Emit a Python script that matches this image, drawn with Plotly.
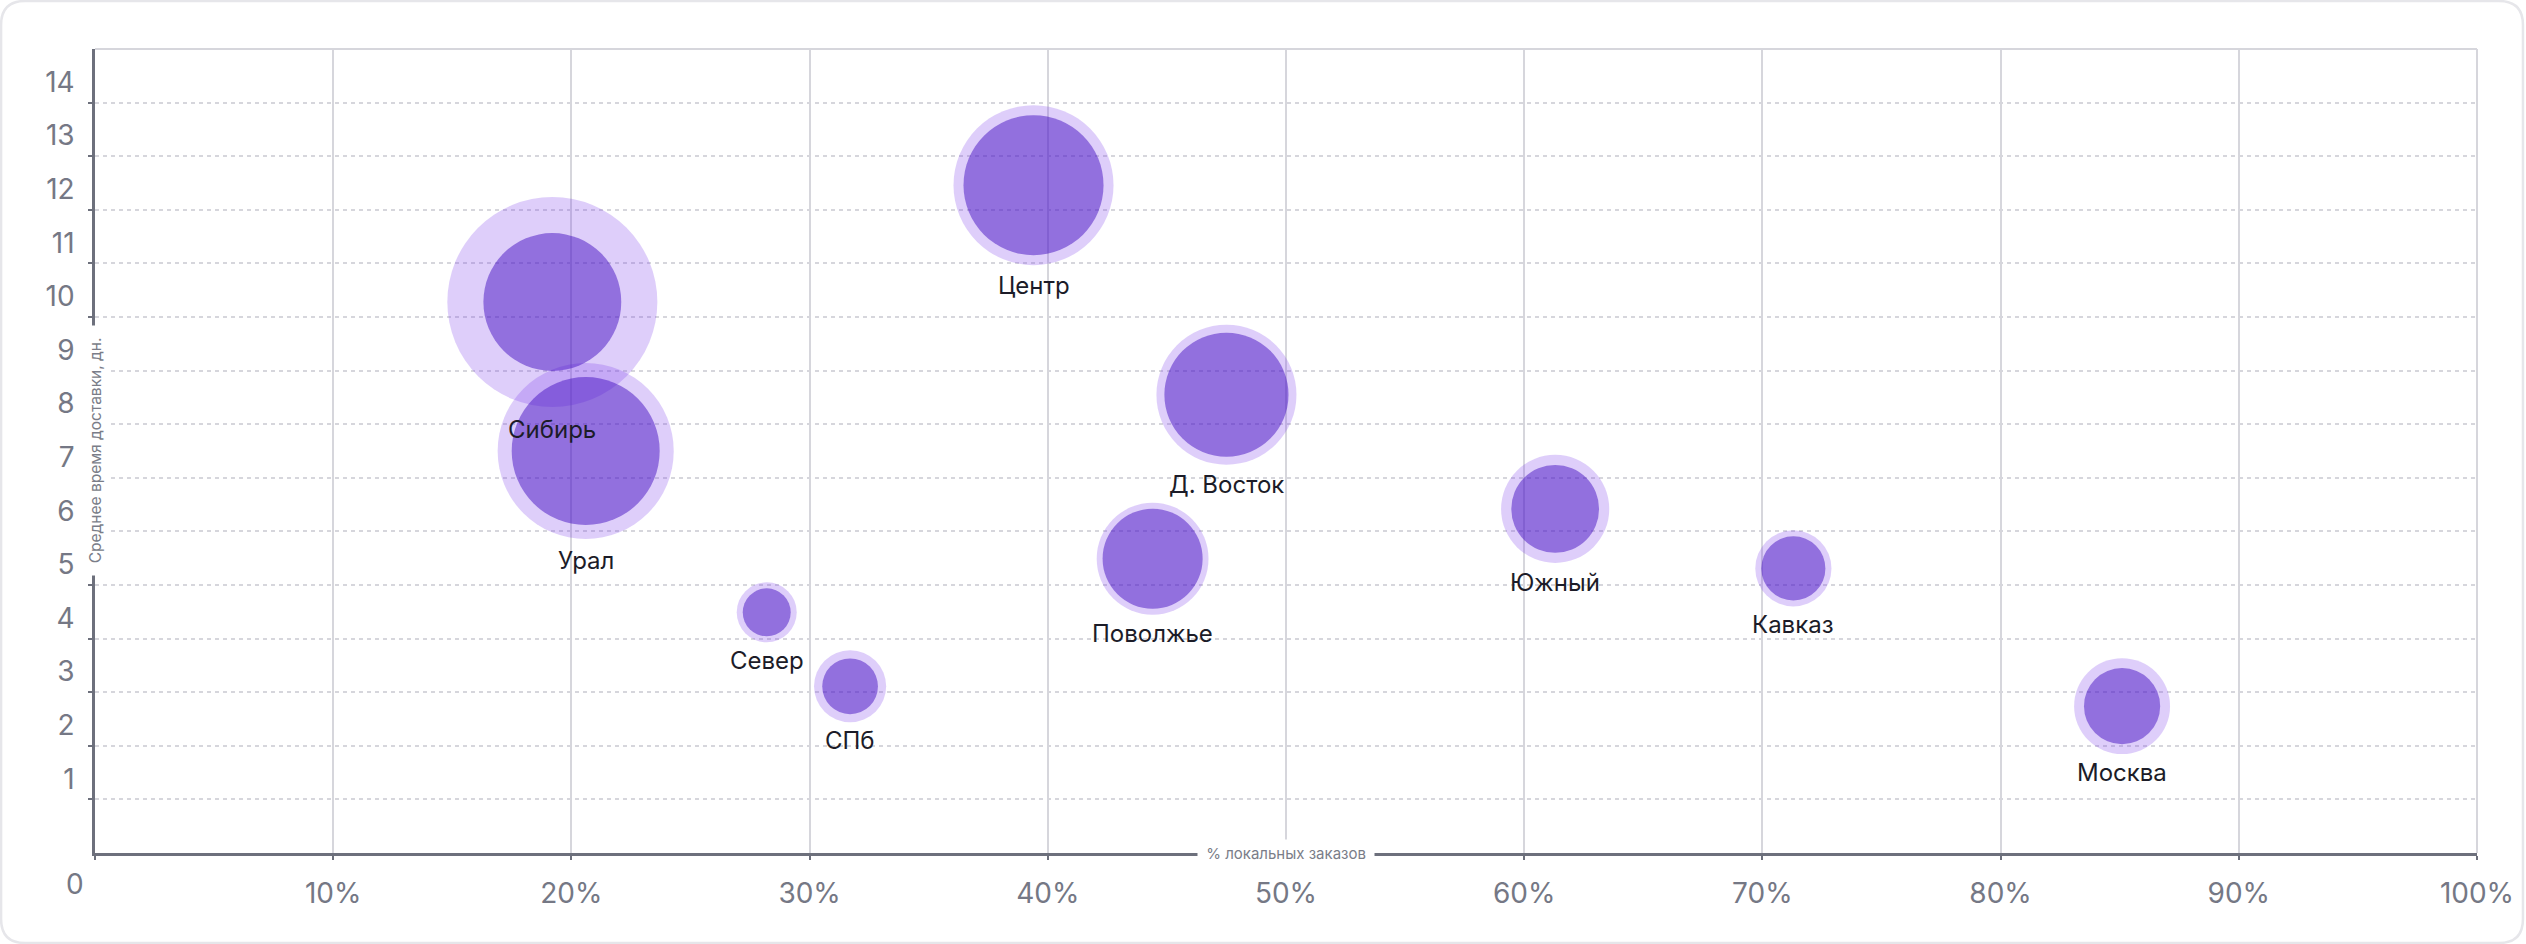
import numpy as np
import plotly.graph_objects as go

# регионы: доля локальных заказов (%), среднее время доставки (дн.)
regions = ["Сибирь", "Урал", "Центр", "Д. Восток", "Поволжье",
           "Южный", "Кавказ", "Север", "СПб", "Москва"]
local_share = [19.2, 20.6, 39.4, 47.5, 44.4, 61.3, 71.3, 28.2, 31.7, 85.1]
delivery_days = [10.28, 7.50, 12.46, 8.55, 5.49, 6.42, 5.31, 4.49, 3.11, 2.74]
# объём заказов (внешний круг) и локальные заказы (внутренний круг), тыс.
orders_total = [44.1, 31.0, 25.6, 19.6, 12.5, 11.7, 5.8, 3.6, 5.2, 9.2]
orders_local = [19.0, 21.9, 19.6, 15.4, 10.0, 7.7, 4.1, 2.3, 3.1, 5.8]

x_ticks = [0, 10, 20, 30, 40, 50, 60, 70, 80, 90, 100]
x_ticktext = ["", "10%", "20%", "30%", "40%", "50%", "60%", "70%", "80%", "90%", "100%"]
y_ticks = list(range(1, 15))

W, H = 2526, 944
ML, MR, MT, MB = 95, 47, 49, 91
SIZEREF = 0.002
FONT = "Inter, Noto Sans, sans-serif"
GRID = "#d6d6dc"
AXIS = "#6d707c"
TICK_FONT = dict(family=FONT, size=28, color="#757885")

fig = go.Figure()

fig.add_trace(go.Scatter(
    x=local_share, y=delivery_days, mode="markers", name="orders_total",
    marker=dict(size=orders_total, sizemode="area", sizeref=SIZEREF, opacity=1,
                color="rgba(124,58,237,0.25)", line=dict(width=0)),
    hoverinfo="skip"))
fig.add_trace(go.Scatter(
    x=local_share, y=delivery_days, mode="markers", name="orders_local",
    marker=dict(size=orders_local, sizemode="area", sizeref=SIZEREF, opacity=1,
                color="rgba(70,18,194,0.5)", line=dict(width=0)),
    text=regions, hoverinfo="text"))

# подписи под пузырями
for name, xv, yv, s in zip(regions, local_share, delivery_days, orders_total):
    r = np.sqrt(s / (2 * SIZEREF))
    fig.add_annotation(x=xv, y=yv, text=name, showarrow=False,
                       yshift=-(r * 1.06 + 16), yanchor="middle",
                       font=dict(family=FONT, size=24, color="#1c1c28"))

# "0" в начале оси X
fig.add_annotation(x=0, y=0, xref="x", yref="y", text="0", showarrow=False,
                   xshift=-20, yshift=-31, yanchor="middle",
                   font=TICK_FONT)

# заголовки осей прямо на линиях
fig.add_annotation(x=0.5, y=0, xref="paper", yref="paper",
                   text="\u00a0% локальных заказов\u00a0", showarrow=False,
                   yanchor="middle", bgcolor="white", borderpad=4,
                   font=dict(family=FONT, size=15, color="#7a7d88"))
fig.add_annotation(x=0, y=0.5, xref="paper", yref="paper",
                   text="\u00a0\u00a0Среднее время доставки, дн.\u00a0\u00a0",
                   textangle=-90, showarrow=False, xanchor="center",
                   bgcolor="white", borderpad=3,
                   font=dict(family=FONT, size=15.5, color="#7a7d88"))

# верхняя и правая рамка области графика
fig.add_shape(type="line", xref="paper", yref="paper", x0=0, x1=1, y0=1, y1=1,
              line=dict(color=GRID, width=2), layer="below")
fig.add_shape(type="line", xref="paper", yref="paper", x0=1, x1=1, y0=0, y1=1,
              line=dict(color=GRID, width=2), layer="below")

# внешняя скруглённая рамка карточки
pw, ph = W - ML - MR, H - MT - MB
x0, x1 = (1 - ML) / pw, (W - 1 - ML) / pw
y0, y1 = -(MB - 1) / ph, (ph + MT - 1) / ph
rx, ry = 24 / pw, 24 / ph
path = (f"M {x0+rx},{y1} L {x1-rx},{y1} Q {x1},{y1} {x1},{y1-ry} "
        f"L {x1},{y0+ry} Q {x1},{y0} {x1-rx},{y0} L {x0+rx},{y0} "
        f"Q {x0},{y0} {x0},{y0+ry} L {x0},{y1-ry} Q {x0},{y1} {x0+rx},{y1} Z")
fig.add_shape(type="path", xref="paper", yref="paper", path=path,
              line=dict(color="#e6e6ea", width=2.5), layer="below")

fig.update_xaxes(range=[0, 100], tickvals=x_ticks, ticktext=x_ticktext,
                 showgrid=True, gridcolor=GRID, gridwidth=1.5,
                 showline=True, linecolor=AXIS, linewidth=2.5,
                 ticks="outside", ticklen=4, tickwidth=2, tickcolor=AXIS,
                 tickfont=TICK_FONT, ticklabelstandoff=10, zeroline=False)
fig.update_yaxes(range=[0, 15], tickvals=y_ticks,
                 showgrid=True, gridcolor=GRID, gridwidth=1.5, griddash="4px,4px",
                 showline=True, linecolor=AXIS, linewidth=2.5,
                 ticks="outside", ticklen=4, tickwidth=2, tickcolor=AXIS,
                 tickfont=TICK_FONT, ticklabelposition="outside top",
                 ticklabelstandoff=12, zeroline=False)

fig.update_layout(
    width=W, height=H,
    margin=dict(l=ML, r=MR, t=MT, b=MB),
    paper_bgcolor="white", plot_bgcolor="white",
    showlegend=False,
    font=dict(family=FONT))

fig.write_html("out.html", config={"displayModeBar": False},
               post_script="document.body.style.margin='0';")
